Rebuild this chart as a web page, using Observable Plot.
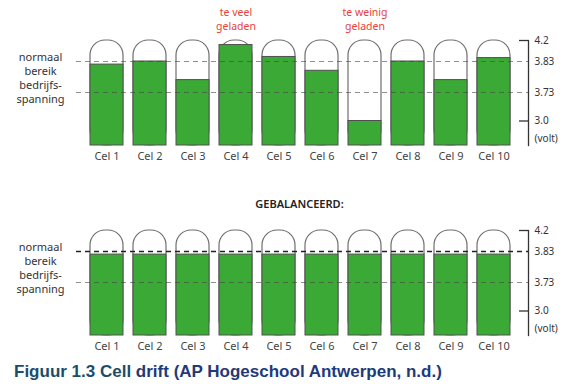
<!DOCTYPE html>
<html>
<head>
<meta charset="utf-8">
<script src="https://cdn.jsdelivr.net/npm/d3@7"></script>
<script src="https://cdn.jsdelivr.net/npm/@observablehq/plot@0.6"></script>
<style>
  body { margin: 0; background: #fff; }
  #wrap { position: relative; width: 566px; height: 386px; overflow: hidden; background: #fff; }
  #top, #bottom { position: absolute; left: 0; }
  #top { top: 0; }
  #bottom { top: 190px; }
  #caption { position: absolute; left: 14px; top: 363px; font-family: "Liberation Sans", Arial, sans-serif;
    font-weight: bold; font-size: 17px; white-space: nowrap; color: #1f3a7a; line-height: 1; }
  #caption .a { color: #1b4d6b; }
</style>
</head>
<body>
<div id="wrap">
  <div id="top"></div>
  <div id="bottom"></div>
  <div id="caption"><span class="a">Figuur 1.3 Cell</span> drift (AP Hogeschool Antwerpen, n.d.)</div>
</div>
<script>
const cells = ["Cel 1", "Cel 2", "Cel 3", "Cel 4", "Cel 5", "Cel 6", "Cel 7", "Cel 8", "Cel 9", "Cel 10"];
const driftVolts = [3.82, 3.83, 3.77, 4.12, 3.91, 3.80, 3.00, 3.83, 3.77, 3.89];
const balancedVolts = [3.82, 3.82, 3.82, 3.82, 3.82, 3.82, 3.82, 3.82, 3.82, 3.82];
const tickValues = [4.2, 3.83, 3.73, 3.0];
const tickLabels = ["4.2", "3.83", "3.73", "3.0"];
const markedTicks = [4.2, 3.0];
const rangeLines = [3.83, 3.73];
const cellTop = 4.2;
const cellFloor = 2.4;
const sideLabel = "normaal\nbereik\nbedrijfs-\nspanning";
const unitLabel = "(volt)";
const driftNotes = [{cel: "Cel 4", label: "te veel\ngeladen"}, {cel: "Cel 7", label: "te weinig\ngeladen"}];
const balancedTitle = "GEBALANCEERD:";

const labelOf = new Map(tickValues.map((v, i) => [v, tickLabels[i]]));
const FONT = "'Noto Sans', sans-serif";

// schematic (non-linear) voltage axis: piecewise mapping of the drawing
const warp = d3.scaleLinear().domain([cellFloor, 3.0, 3.73, 3.83, cellTop]).range([0, 24.5, 53, 84, 105]);

function panel(volts, opts) {
  const data = cells.map((c, i) => ({cel: c, v: volts[i], top: cellTop, floor: cellFloor}));
  const marks = [
    Plot.barY(data, {x: "cel", y1: "floor", y2: "top", fill: "white", stroke: "#6e6e6e", strokeWidth: 1.2, rx: 15}),
    Plot.barY(data, {x: "cel", y1: "floor", y2: "v", fill: "#3aa935", stroke: "#505050", strokeWidth: 1}),
    Plot.ruleY([rangeLines[0]], {stroke: opts.upperStroke, strokeOpacity: opts.upperOpacity, strokeWidth: opts.upperWidth, strokeDasharray: "5,4"}),
    Plot.ruleY([rangeLines[1]], {stroke: "#444", strokeOpacity: 0.6, strokeWidth: 1, strokeDasharray: "5,4"}),
    Plot.frame({anchor: "right", stroke: "#333", strokeWidth: 1.3}),
    Plot.ruleY(markedTicks, {insetLeft: 443, stroke: "#333", strokeWidth: 1.3}),
    Plot.axisY(tickValues, {anchor: "right", tickSize: 0, tickPadding: 6, tickFormat: d => labelOf.get(d), fontSize: 10, color: "#333", label: null}),
    Plot.axisX({tickSize: 0, tickPadding: 7, fontSize: 11, color: "#444", label: null}),
    Plot.text([unitLabel], {text: d => d, frameAnchor: "bottom-right", textAnchor: "start", dx: 6, dy: -4, fontSize: 10, fill: "#333"}),
    Plot.text([sideLabel], {text: d => d, frameAnchor: "top-left", dx: -36, dy: 11, lineAnchor: "top", textAnchor: "middle", lineHeight: 1.25, fontSize: 11, fill: "#333"})
  ];
  if (opts.notes) {
    marks.push(Plot.text(opts.notes, {x: "cel", text: "label", frameAnchor: "top", lineAnchor: "bottom", dy: -11, lineHeight: 1.25, fontSize: 10.5, fill: "#e8413c"}));
  }
  if (opts.title) {
    marks.push(Plot.text([opts.title], {text: d => d, frameAnchor: "top", dy: -26, lineAnchor: "middle", fontSize: 11, fontWeight: 600, fill: "#222", dx: -3}));
  }
  return Plot.plot({
    width: 566,
    height: 170,
    marginTop: 40,
    marginBottom: 25,
    marginLeft: 76,
    marginRight: 38,
    style: {fontFamily: FONT, background: "transparent"},
    x: {domain: cells, range: [78.4, 520.6], padding: 0.236, label: null},
    y: {transform: warp, domain: [0, 105], range: [145, 40], label: null},
    marks
  });
}

document.getElementById("top").appendChild(panel(driftVolts, {notes: driftNotes, upperStroke: "#444", upperOpacity: 0.6, upperWidth: 1}));
document.getElementById("bottom").appendChild(panel(balancedVolts, {title: balancedTitle, upperStroke: "#222", upperOpacity: 1, upperWidth: 1.5}));
</script>
</body>
</html>
